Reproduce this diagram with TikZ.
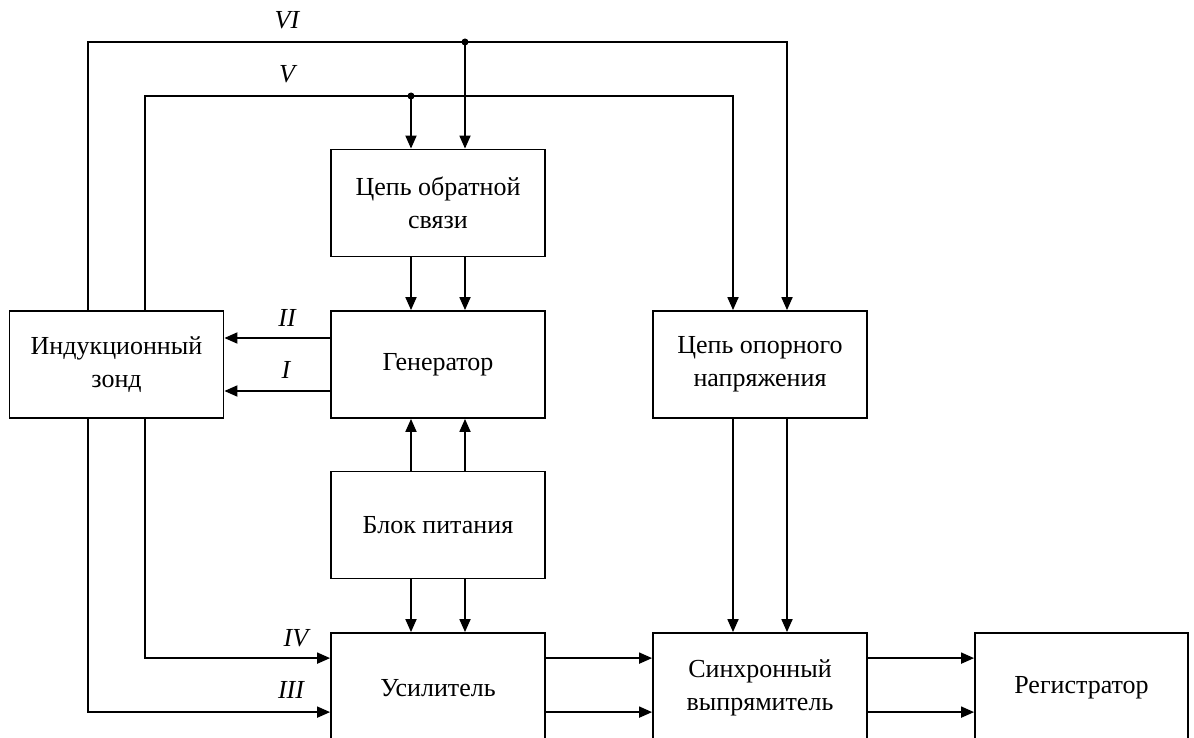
\documentclass[tikz,border=0pt]{standalone}
\usepackage{fontspec}
\setmainfont{Liberation Serif}
\usetikzlibrary{arrows.meta,calc}
\begin{document}
\begin{tikzpicture}[x=1pt,y=-1pt,
  blk/.style={draw,line width=1.8pt,minimum width=214pt,minimum height=107pt,
    inner sep=0pt,align=center,font=\fontsize{26}{33}\selectfont},
  conn/.style={line width=1.8pt},
  arr/.style={conn,-{Triangle[length=13pt,width=11pt]}},
  lbl/.style={font=\fontsize{26}{29}\selectfont\itshape,inner sep=0pt},
  dot/.style={circle,fill,inner sep=0pt,minimum size=7pt}]
\path[use as bounding box] (0,0) rectangle (1194,738);
\clip (0,0) rectangle (1194,738);
\node[blk] (fb) at (438,203) {Цепь обратной\\связи};
\node[blk] (gen) at (438,364.5) {Генератор};
\node[blk] (pow) at (438,525) {Блок питания};
\node[blk,minimum height=110pt] (amp) at (438,688) {Усилитель};
\node[blk] (probe) at (116.5,364.5) {Индукционный\\зонд};
\node[blk] (ref) at (760,364.5) {Цепь опорного\\напряжения};
\node[blk,minimum height=110pt] (sync) at (760,688) {Синхронный\\выпрямитель};
\node[blk,minimum width=213pt,minimum height=110pt] (reg) at (1081.5,688) {Регистратор};
% top bus lines
\coordinate (vi1) at ($(probe.north)+(-28.5,0)$);
\coordinate (v1) at ($(probe.north)+(28.5,0)$);
\coordinate (vic) at (vi1 |- 0,42);
\coordinate (vc) at (v1 |- 0,96);
\coordinate (vir) at ($(ref.north)+(27,0)$);
\coordinate (vr) at ($(ref.north)+(-27,0)$);
\coordinate (fbr) at ($(fb.north)+(27,0)$);
\coordinate (fbl) at ($(fb.north)+(-27,0)$);
\node[dot] (vid) at (fbr |- vic) {};
\node[dot] (vd) at (fbl |- vc) {};
\draw[arr] (vi1) -- (vic) -- (vic -| vir) -- (vir);
\draw[arr] (v1) -- (vc) -- (vc -| vr) -- (vr);
\draw[arr] (vid.center) -- (fbr);
\draw[arr] (vd.center) -- (fbl);
\node[lbl] (lvi) at (287,20) {VI};
\node[lbl] (lv) at (287,74) {V};
% feedback -> generator
\draw[arr] ($(fb.south)+(-27,0)$) -- ($(gen.north)+(-27,0)$);
\draw[arr] ($(fb.south)+(27,0)$) -- ($(gen.north)+(27,0)$);
% generator -> probe
\draw[arr] ($(gen.west)+(0,-26.5)$) -- ($(probe.east)+(0,-26.5)$);
\draw[arr] ($(gen.west)+(0,26.5)$) -- ($(probe.east)+(0,26.5)$);
\node[lbl] (lii) at (287,318) {II};
\node[lbl] (li) at (286,370) {I};
% power -> generator, amplifier
\draw[arr] ($(pow.north)+(-27,0)$) -- ($(gen.south)+(-27,0)$);
\draw[arr] ($(pow.north)+(27,0)$) -- ($(gen.south)+(27,0)$);
\draw[arr] ($(pow.south)+(-27,0)$) -- ($(amp.north)+(-27,0)$);
\draw[arr] ($(pow.south)+(27,0)$) -- ($(amp.north)+(27,0)$);
% probe -> amplifier
\coordinate (p3) at ($(probe.south)+(-28.5,0)$);
\coordinate (p4) at ($(probe.south)+(28.5,0)$);
\coordinate (a3) at ($(amp.north west)+(0,80)$);
\coordinate (a4) at ($(amp.north west)+(0,26)$);
\draw[arr] (p4) -- (p4 |- a4) -- (a4);
\draw[arr] (p3) -- (p3 |- a3) -- (a3);
\node[lbl] (liv) at (296,638) {IV};
\node[lbl] (liii) at (291,690) {III};
% ref -> sync
\draw[arr] ($(ref.south)+(-27,0)$) -- ($(sync.north)+(-27,0)$);
\draw[arr] ($(ref.south)+(27,0)$) -- ($(sync.north)+(27,0)$);
% amp -> sync -> reg
\draw[arr] (amp.east |- a4) -- (sync.west |- a4);
\draw[arr] (amp.east |- a3) -- (sync.west |- a3);
\draw[arr] (sync.east |- a4) -- (reg.west |- a4);
\draw[arr] (sync.east |- a3) -- (reg.west |- a3);
\end{tikzpicture}
\end{document}
